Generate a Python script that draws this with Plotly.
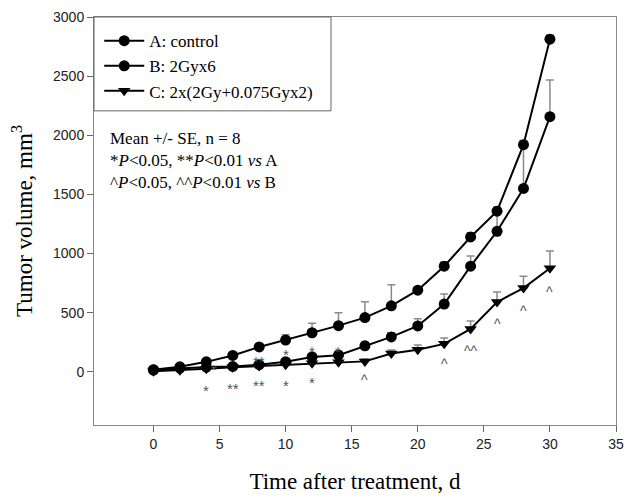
import plotly.graph_objects as go

days = [0, 2, 4, 6, 8, 10, 12, 14, 16, 18, 20, 22, 24, 26, 28, 30]

# A: control
vol_a = [18, 42, 84, 138, 210, 268, 330, 390, 458, 558, 690, 893, 1140, 1358, 1920, 2812]
se_a = [5, 8, 12, 15, 25, 45, 80, 110, 135, 177, 30, 35, 35, 35, 35, 35]
# B: 2Gyx6
vol_b = [15, 30, 40, 45, 60, 85, 125, 140, 220, 295, 388, 573, 893, 1188, 1550, 2157]
se_b = [3, 5, 8, 10, 15, 25, 30, 35, 30, 35, 60, 84, 85, 165, 370, 310]
# C: 2x(2Gy+0.075Gyx2)
vol_c = [5, 12, 25, 38, 48, 60, 72, 80, 88, 155, 186, 236, 362, 590, 708, 876]
se_c = [2, 4, 6, 8, 10, 12, 14, 18, 20, 30, 40, 50, 68, 85, 100, 145]

# significance marks: (day, y, label)
star_top_x = [4.6, 8, 10, 12, 14]
star_top_y = [60, 127, 186, 211, 211]
star_top_lab = ["*", "**", "*", "*", "*"]
star_bot_x = [4, 6, 8, 10, 12]
star_bot_y = [-120, -95, -70, -70, -45]
star_bot_lab = ["*", "**", "**", "*", "*"]
caret_x = [16, 22, 24, 26, 28, 30]
caret_y = [-25, 110, 220, 448, 558, 718]
caret_lab = ["^", "^", "^^", "^", "^", "^"]

serif = "Liberation Serif"
sans = "Liberation Sans"

fig = go.Figure()

# drawn C, B, A so that A's markers sit on top; legend reversed back to A, B, C
series = [
    ("C: 2x(2Gy+0.075Gyx2)", vol_c, se_c, "triangle-down"),
    ("B: 2Gyx6", vol_b, se_b, "circle"),
    ("A: control", vol_a, se_a, "circle"),
]
for name, v, se, sym in series:
    fig.add_trace(go.Scatter(
        x=days, y=v, name=name, mode="lines+markers",
        line=dict(color="black", width=2),
        marker=dict(symbol=sym, size=11, color="black"),
        error_y=dict(type="data", array=se, arrayminus=[0] * len(se), symmetric=False,
                     color="#8a8a8a", thickness=1.5, width=4),
    ))

for xs, ys, labs, sz in [(star_top_x, star_top_y, star_top_lab, 15),
                         (star_bot_x, star_bot_y, star_bot_lab, 15),
                         (caret_x, caret_y, caret_lab, 14)]:
    for x, y, t in zip(xs, ys, labs):
        fig.add_annotation(x=x, y=y, text=t, showarrow=False, yshift=-5,
                           font=dict(family=sans, size=sz, color="#555555"))

fig.add_annotation(
    xref="paper", yref="paper", x=0.027, y=0.73, xanchor="left", yanchor="top",
    align="left", showarrow=False,
    text="Mean +/- SE, n = 8<br>*<i>P</i>&lt;0.05, **<i>P</i>&lt;0.01 <i>vs</i> A"
         "<br>^<i>P</i>&lt;0.05, ^^<i>P</i>&lt;0.01 <i>vs</i> B",
    font=dict(family=serif, size=17, color="black"),
)

fig.add_shape(type="rect", xref="paper", yref="paper", x0=0, x1=0.454, y0=0.770, y1=1,
              line=dict(color="#666666", width=1), fillcolor="rgba(0,0,0,0)")

# page body has an 8px margin, so the figure is sized/offset to land the plot at the reference spot
fig.update_layout(
    width=616, height=486,
    margin=dict(l=86, r=8, t=9, b=69),
    plot_bgcolor="white", paper_bgcolor="white",
    showlegend=True,
    legend=dict(x=0.01, y=0.985, xanchor="left", yanchor="top", traceorder="reversed",
                bgcolor="rgba(0,0,0,0)", itemwidth=40, tracegroupgap=0,
                font=dict(family=serif, size=17, color="black")),
    xaxis=dict(range=[-4.5, 35], tickvals=[0, 5, 10, 15, 20, 25, 30, 35], automargin=False,
               ticks="outside", ticklen=6, tickcolor="#666666",
               showline=True, linecolor="#888888", mirror=True, showgrid=False, zeroline=False,
               tickfont=dict(family=sans, size=14, color="#222222"),
               title=dict(text="Time after treatment, d", standoff=30,
                          font=dict(family=serif, size=23, color="black"))),
    yaxis=dict(range=[-450, 3000], tickvals=[0, 500, 1000, 1500, 2000, 2500, 3000], automargin=False,
               ticks="outside", ticklen=6, tickcolor="#666666",
               showline=True, linecolor="#888888", mirror=True, showgrid=False, zeroline=False,
               tickfont=dict(family=sans, size=14, color="#222222"),
               title=dict(text="Tumor volume, mm<sup>3</sup>", standoff=14,
                          font=dict(family=serif, size=23, color="black"))),
)

fig.write_html("out.html")
